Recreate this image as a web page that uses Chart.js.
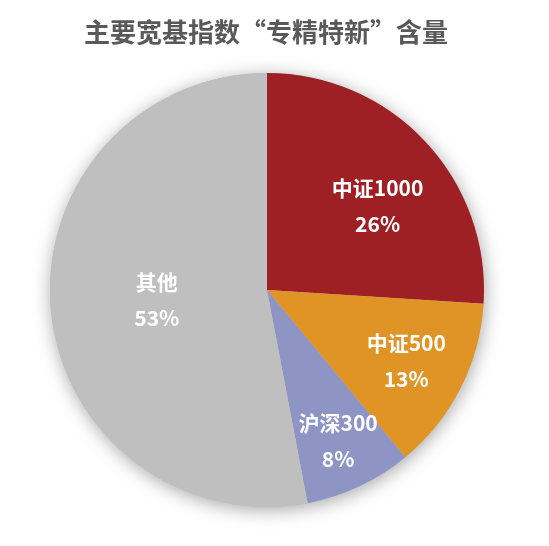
<!DOCTYPE html>
<html>
<head>
<meta charset="utf-8">
<script src="https://cdn.jsdelivr.net/npm/chart.js@4.4.1/dist/chart.umd.min.js"></script>
<style>
html,body{margin:0;padding:0;background:#fff;}
#wrap{width:549px;height:546px;position:relative;}
</style>
</head>
<body>
<div id="wrap"><canvas id="c" width="549" height="546"></canvas></div>
<script>
const titleText = '主要宽基指数“专精特新”含量';
const categories = ['中证1000', '中证500', '沪深300', '其他'];
const values = [26, 13, 8, 53];
const valueLabels = ['26%', '13%', '8%', '53%'];
const colors = ['#9E2025', '#E09426', '#8E94C4', '#BFBFBF'];

const FONT = '"Noto Sans CJK SC", "Microsoft YaHei", sans-serif';

const shadowPlugin = {
  id: 'pieShadow',
  beforeDatasetsDraw(chart) {
    const arc = chart.getDatasetMeta(0).data[0];
    if (!arc) return;
    const ctx = chart.ctx;
    ctx.save();
    ctx.shadowColor = 'rgba(0,0,0,0.35)';
    ctx.shadowBlur = 18;
    ctx.shadowOffsetX = 1;
    ctx.shadowOffsetY = 3;
    ctx.fillStyle = '#BFBFBF';
    ctx.beginPath();
    ctx.arc(arc.x, arc.y, arc.outerRadius, 0, Math.PI * 2);
    ctx.fill();
    ctx.restore();
  }
};

const labelPlugin = {
  id: 'sliceLabels',
  afterDatasetsDraw(chart, args, opts) {
    const ctx = chart.ctx;
    const meta = chart.getDatasetMeta(0);
    ctx.save();
    ctx.fillStyle = '#FFFFFF';
    ctx.font = 'bold 21px ' + FONT;
    ctx.textAlign = 'center';
    ctx.textBaseline = 'middle';
    meta.data.forEach((arc, i) => {
      const mid = (arc.startAngle + arc.endAngle) / 2 + (opts.angleShift[i] || 0) * Math.PI / 180;
      const r = arc.outerRadius * opts.radius[i];
      const cx = arc.x + Math.cos(mid) * r;
      const cy = arc.y + Math.sin(mid) * r;
      ctx.fillText(categories[i], cx, cy - 18);
      ctx.fillText(valueLabels[i], cx, cy + 18);
    });
    ctx.restore();
  }
};

const titlePlugin = {
  id: 'customTitle',
  afterDraw(chart) {
    const ctx = chart.ctx;
    ctx.save();
    ctx.fillStyle = '#595959';
    ctx.font = 'bold 26px ' + FONT;
    ctx.textAlign = 'center';
    ctx.textBaseline = 'middle';
    ctx.fillText(titleText, 266, 32);
    ctx.restore();
  }
};

new Chart(document.getElementById('c'), {
  type: 'pie',
  data: {
    labels: categories,
    datasets: [{
      data: values,
      backgroundColor: colors,
      borderWidth: 0,
      hoverOffset: 0
    }]
  },
  options: {
    responsive: false,
    animation: false,
    layout: { padding: { left: 50, right: 65, top: 73, bottom: 39 } },
    plugins: {
      legend: { display: false },
      title: { display: false },
      tooltip: { enabled: false },
      sliceLabels: {
        angleShift: [6, 0, 0, 0],
        radius: [0.64, 0.72, 0.77, 0.51]
      }
    }
  },
  plugins: [shadowPlugin, labelPlugin, titlePlugin]
});
</script>
</body>
</html>
